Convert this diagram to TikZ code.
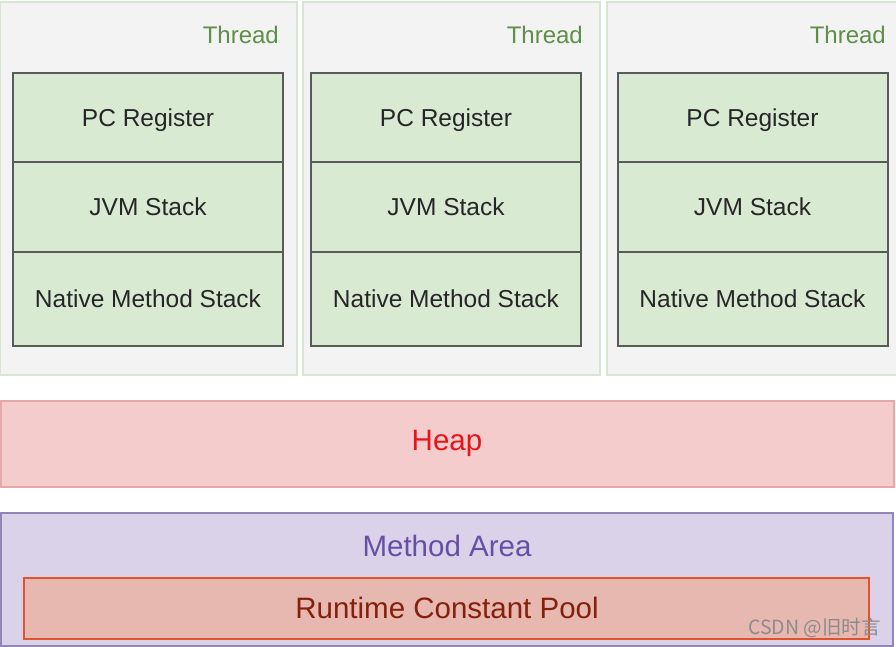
\documentclass[tikz,border=0pt]{standalone}
\usepackage{fontspec}
\setmainfont{Liberation Sans}
\newfontfamily\cjk{Noto Sans CJK SC}
\usetikzlibrary{positioning}
\definecolor{threadbg}{HTML}{F3F3F3}
\definecolor{threadline}{HTML}{D6E6D0}
\definecolor{threadtext}{HTML}{5E8F48}
\definecolor{stackgreen}{HTML}{D9EAD3}
\definecolor{framegray}{HTML}{5A5A5A}
\definecolor{heapbg}{HTML}{F4CCCC}
\definecolor{heapline}{HTML}{E3A9A9}
\definecolor{heaptext}{HTML}{E8141A}
\definecolor{methodbg}{HTML}{D9D2E9}
\definecolor{methodline}{HTML}{9088B4}
\definecolor{methodtext}{HTML}{674EA7}
\definecolor{poolbg}{HTML}{E6B8AF}
\definecolor{poolline}{HTML}{E2522C}
\definecolor{pooltext}{HTML}{85200C}
\tikzstyle{thread} = [rectangle, draw=threadline, fill=threadbg, line width=1.5pt, minimum width=297pt, minimum height=373pt, inner sep=0pt, outer sep=0pt, anchor=north west]
\tikzstyle{threadlabel} = [text=threadtext, font=\fontsize{24}{28}\selectfont, anchor=east, inner sep=0pt]
\tikzstyle{frame} = [rectangle, draw=framegray, fill=stackgreen, line width=2pt, minimum width=270pt, minimum height=90pt, outer sep=0pt, text=black!85, font=\fontsize{24.5}{28}\selectfont]
\tikzstyle{area} = [rectangle, line width=1.5pt, inner sep=0pt, outer sep=0pt, anchor=north west]

\begin{document}
\begin{tikzpicture}[x=1pt, y=-1pt]
      \clip (0,0) rectangle (896,647);
      \fill[white] (0,0) rectangle (896,647);
      %threads
      \node[thread](thread1) at (0,2){};
      \node[thread](thread2) at (303,2){};
      \node[thread](thread3) at (607,2){};
      \node[threadlabel](label1) at (279,35){Thread};
      \node[threadlabel](label2) at (583,35){Thread};
      \node[threadlabel](label3) at (886,35){Thread};
      \node[frame, minimum height=89pt, text depth=0pt](pc1) at (148,117.5){PC Register};
      \node[frame, below=0pt of pc1](jvm1){JVM Stack};
      \node[frame, below=0pt of jvm1, minimum height=94pt](native1){Native Method Stack};
      \node[frame, minimum height=89pt, text depth=0pt](pc2) at (446,117.5){PC Register};
      \node[frame, below=0pt of pc2](jvm2){JVM Stack};
      \node[frame, below=0pt of jvm2, minimum height=94pt](native2){Native Method Stack};
      \node[frame, minimum height=89pt, text depth=0pt](pc3) at (752.5,117.5){PC Register};
      \node[frame, below=0pt of pc3](jvm3){JVM Stack};
      \node[frame, below=0pt of jvm3, minimum height=94pt](native3){Native Method Stack};
      %heap and method area
      \node[area, draw=heapline, fill=heapbg, minimum width=893pt, minimum height=86pt](heap) at (1,401){};
      \node[text=heaptext, font=\fontsize{29.5}{34}\selectfont](heaplabel) at (447,443){Heap};
      \node[area, draw=methodline, fill=methodbg, minimum width=892pt, minimum height=133pt](method) at (1,513){};
      \node[text=methodtext, font=\fontsize{29.5}{34}\selectfont](methodlabel) at (447,546){Method Area};
      \node[area, draw=poolline, fill=poolbg, line width=2.5pt, minimum width=845pt, minimum height=61pt](pool) at (24,578){};
      \node[text=pooltext, font=\fontsize{29.5}{34}\selectfont](poollabel) at (447,608){Runtime Constant Pool};
      \node[text=black!45, font=\cjk\fontsize{19.5}{22}\selectfont, anchor=east, inner sep=0pt](csdn) at (881,628){CSDN @旧时言};
\end{tikzpicture}
\end{document}
